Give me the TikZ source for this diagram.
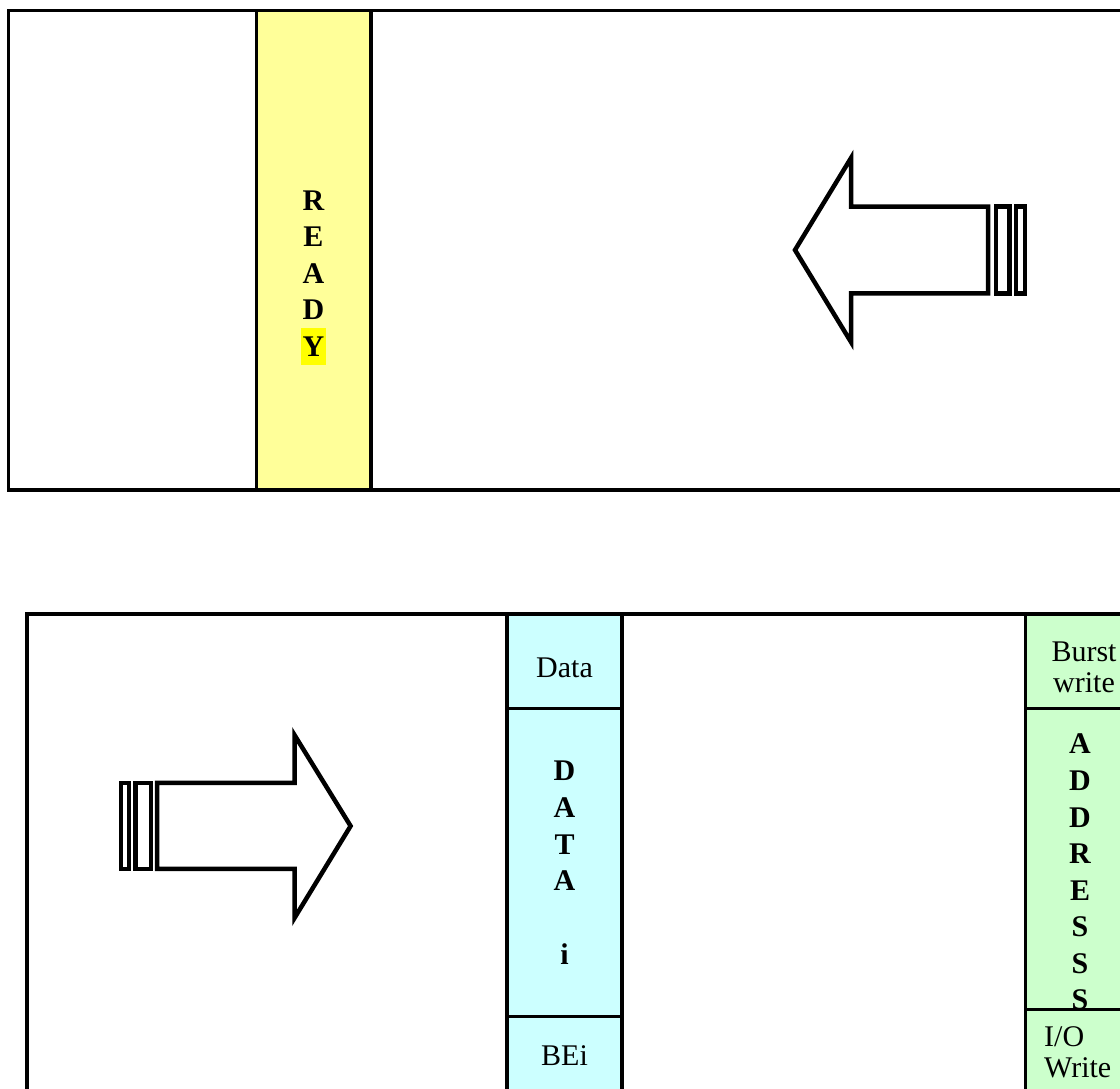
\documentclass[tikz,border=0pt]{standalone}
\usepackage{fontspec}
\setmainfont{Liberation Serif}
\definecolor{colyellow}{HTML}{FFFF99}
\definecolor{hiyellow}{HTML}{FFFF00}
\definecolor{colcyan}{HTML}{CCFFFF}
\definecolor{colgreen}{HTML}{CCFFCC}
\tikzset{
  frame/.style={draw=black, line width=3.5pt},
  divline/.style={draw=black, line width=3pt},
  bigarrow/.style={draw=black, line width=4.5pt, line join=miter, fill=white},
  vletter/.style={font=\bfseries\fontsize{30}{36.6}\selectfont, inner sep=0pt},
  label/.style={font=\fontsize{30}{31}\selectfont, inner sep=0pt},
}
\begin{document}
\begin{tikzpicture}[x=1pt,y=-1pt]
\useasboundingbox (0,0) rectangle (1120,1088);
\clip (0,0) rectangle (1120,1088);
% ---- top panel ----
\draw[frame, fill=white] (8.5,10.5) rectangle (1200,490);
\draw[frame, fill=colyellow] (256.5,10.5) rectangle (371,490);
\foreach \c [count=\i] in {R,E,A,D}
  \node[vletter] (ready\i) at (313.5,{200.3+(\i-1)*36.6}) {\c};
\node[vletter, fill=hiyellow, minimum height=37pt, inner xsep=1.2pt] (ready5) at (313.5,346.7) {Y};
% left arrow
\draw[bigarrow] (795,250) -- (851,158) -- (851,206.7) -- (988,206.7)
  -- (988,293.3) -- (851,293.3) -- (851,342) -- cycle;
\draw[bigarrow] (995.8,206.7) rectangle (1009.5,293.3);
\draw[bigarrow] (1016.2,206.7) rectangle (1024.8,293.3);
% ---- bottom panel ----
\draw[frame, fill=white] (27,614) rectangle (1200,1200);
% cyan column
\draw[frame, fill=colcyan] (507,614) rectangle (622,1200);
\draw[divline] (507,708.7) -- (622,708.7);
\draw[divline] (507,1016.7) -- (622,1016.7);
\node[label] (data) at (564.5,668) {Data};
\foreach \c [count=\i] in {D,A,T,A}
  \node[vletter] (datai\i) at (564.5,{771+(\i-1)*36.6}) {\c};
\node[vletter] (datai6) at (564.5,954) {i};
\node[label] (bei) at (564.5,1056) {BEi};
% green column
\draw[frame, fill=colgreen] (1025.3,614) rectangle (1143,1200);
\draw[divline] (1025.3,708.7) -- (1143,708.7);
\draw[divline] (1025.3,1009.3) -- (1143,1009.3);
\node[label, align=center] (burst) at (1084,667.5) {Burst\\write};
\foreach \c [count=\i] in {A,D,D,R,E,S,S,S}
  \node[vletter] (addr\i) at (1080,{744+(\i-1)*36.6}) {\c};
\node[label, align=left, anchor=west] (iow) at (1044,1052) {I/O\\Write};
% right arrow
\draw[bigarrow] (157.2,782.8) -- (294.5,782.8) -- (294.5,735) -- (350.6,826)
  -- (294.5,918) -- (294.5,868.8) -- (157.2,868.8) -- cycle;
\draw[bigarrow] (121.2,782.8) rectangle (129.2,868.8);
\draw[bigarrow] (135.5,782.8) rectangle (150.8,868.8);
\end{tikzpicture}
\end{document}
